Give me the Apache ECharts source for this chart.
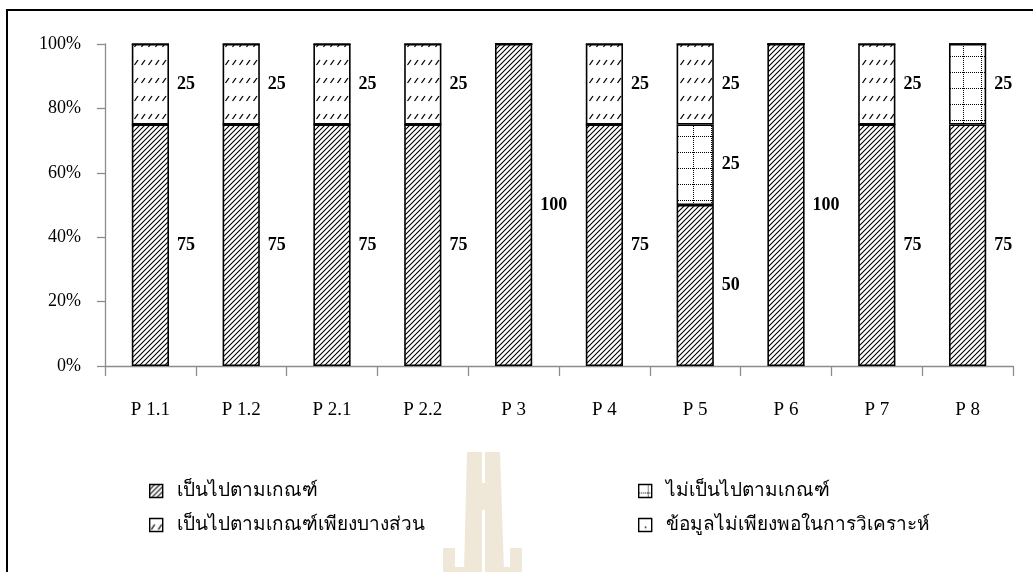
<!DOCTYPE html>
<html>
<head>
<meta charset="utf-8">
<script src="https://cdn.jsdelivr.net/npm/echarts@6/dist/echarts.min.js"></script>
<style>html,body{margin:0;padding:0;background:#fff;}#c{width:1033px;height:572px;}</style>
</head>
<body>
<div id="c"></div>
<script>
const categories = ['P 1.1','P 1.2','P 2.1','P 2.2','P 3','P 4','P 5','P 6','P 7','P 8'];
const seriesNames = ['เป็นไปตามเกณฑ์','ไม่เป็นไปตามเกณฑ์','เป็นไปตามเกณฑ์เพียงบางส่วน','ข้อมูลไม่เพียงพอในการวิเคราะห์'];
const met          = [75,75,75,75,100,75,50,100,75,75];
const notMet       = [0,0,0,0,0,0,25,0,0,25];
const partial      = [25,25,25,25,0,25,25,0,25,0];
const insufficient = [0,0,0,0,0,0,0,0,0,0];

function makeCanvas(w,h,draw){
  const c=document.createElement('canvas');c.width=w;c.height=h;
  const ctx=c.getContext('2d');ctx.fillStyle='#fff';ctx.fillRect(0,0,w,h);
  ctx.strokeStyle='#000';ctx.fillStyle='#000';draw(ctx);return c;
}
const denseHatch = makeCanvas(5,5,ctx=>{
  ctx.lineWidth=1.1;
  ctx.beginPath();
  ctx.moveTo(-1,6);ctx.lineTo(6,-1);
  ctx.moveTo(-1,1);ctx.lineTo(1,-1);
  ctx.moveTo(4,6);ctx.lineTo(6,4);
  ctx.stroke();
});
const dashHatch = makeCanvas(7,18,ctx=>{
  ctx.lineWidth=1.3;
  ctx.beginPath();
  ctx.moveTo(1.5,11);ctx.lineTo(5,6);
  ctx.stroke();
});
const dotGrid = makeCanvas(18,16,ctx=>{
  for(let x=0;x<18;x+=2){ctx.fillRect(x,8,1,1);}
  for(let y=0;y<16;y+=2){ctx.fillRect(9,y,1,1);}
});
const sparseDots = makeCanvas(12,12,ctx=>{
  ctx.fillRect(6,8,1.5,1.5);
});
const patterns = [denseHatch, dotGrid, dashHatch, sparseDots];
const dataSets = [met, notMet, partial, insufficient];

const chart = echarts.init(document.getElementById('c'));
const labelFont = "'Liberation Serif', 'Times New Roman', serif";

const series = dataSets.map((d,i)=>({
  name: seriesNames[i],
  type:'bar',
  stack:'total',
  barWidth:'41%',
  data:d,
  itemStyle:{color:{image:patterns[i],repeat:'repeat'},borderColor:'#000',borderWidth:1.6},
  label:{show:true,position:'right',distance:8,color:'#000',fontWeight:'bold',
         fontFamily:labelFont,fontSize:18,formatter:p=>p.value?String(p.value):''},
  emphasis:{disabled:true}
}));

const wm = '#efe7d8';
const legendText = {color:'#000',fontFamily:labelFont,fontSize:19,lineHeight:22,padding:[0,0,0,9]};
chart.setOption({
  animation:false,
  backgroundColor:'#fff',
  grid:{left:105,right:20,top:44,bottom:206},
  xAxis:{type:'category',data:categories,
    axisLine:{lineStyle:{color:'#8c8c8c',width:1.3}},
    axisTick:{show:true,length:10,lineStyle:{color:'#8c8c8c',width:1.3}},
    axisLabel:{color:'#000',fontFamily:labelFont,fontSize:19,margin:35}},
  yAxis:{type:'value',min:0,max:100,interval:20,
    axisLine:{show:true,lineStyle:{color:'#8c8c8c',width:1.3}},
    axisTick:{show:true,length:8,lineStyle:{color:'#8c8c8c',width:1.3}},
    splitLine:{show:false},
    axisLabel:{color:'#000',fontFamily:labelFont,fontSize:18,margin:24,formatter:'{value}%'}},
  legend:[
    {data:[seriesNames[0],seriesNames[2]],orient:'vertical',left:144,top:475,itemWidth:13,itemHeight:13,itemGap:12,
     selectedMode:false,icon:'rect',itemStyle:{borderColor:'#000',borderWidth:1.4},textStyle:legendText},
    {data:[seriesNames[1],seriesNames[3]],orient:'vertical',left:633,top:475,itemWidth:13,itemHeight:13,itemGap:12,
     selectedMode:false,icon:'rect',itemStyle:{borderColor:'#000',borderWidth:1.4},textStyle:legendText}
  ],
  graphic:[
    {type:'rect',z:-10,shape:{x:7,y:10,width:1200,height:800},style:{fill:null,stroke:'#000',lineWidth:2}},
    {type:'polygon',z:-5,shape:{points:[[467,452],[482,452],[482,572],[464,572]]},style:{fill:wm}},
    {type:'polygon',z:-5,shape:{points:[[485,452],[500,452],[504,572],[485,572]]},style:{fill:wm}},
    {type:'rect',z:-5,shape:{x:481,y:483,width:5,height:27},style:{fill:wm}},
    {type:'rect',z:-5,shape:{x:443,y:548,width:12,height:24},style:{fill:wm}},
    {type:'rect',z:-5,shape:{x:443,y:567,width:24,height:5},style:{fill:wm}},
    {type:'rect',z:-5,shape:{x:510,y:548,width:12,height:24},style:{fill:wm}},
    {type:'rect',z:-5,shape:{x:502,y:567,width:20,height:5},style:{fill:wm}}
  ],
  series:series
});
</script>
</body>
</html>
